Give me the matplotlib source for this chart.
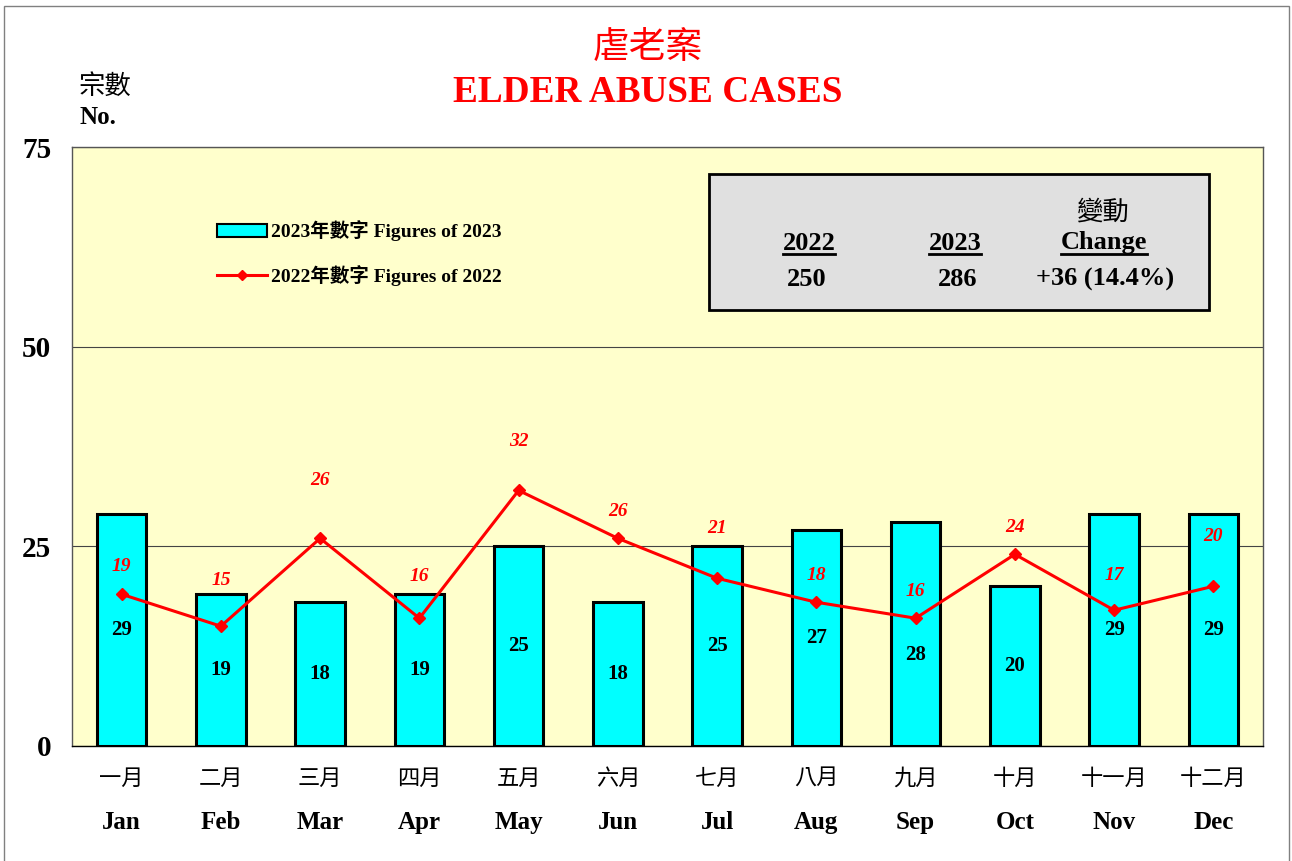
import numpy as np
import matplotlib.pyplot as plt
from matplotlib.patches import Rectangle
from matplotlib.lines import Line2D

serif = ['Liberation Serif', 'Noto Sans CJK TC']
cjk = ['Noto Sans CJK TC', 'Liberation Serif']
plt.rcParams['font.family'] = serif

months_zh = ['一月', '二月', '三月', '四月', '五月', '六月',
             '七月', '八月', '九月', '十月', '十一月', '十二月']
months_en = ['Jan', 'Feb', 'Mar', 'Apr', 'May', 'Jun',
             'Jul', 'Aug', 'Sep', 'Oct', 'Nov', 'Dec']
cases_2023 = [29, 19, 18, 19, 25, 18, 25, 27, 28, 20, 29, 29]
cases_2022 = [19, 15, 26, 16, 32, 26, 21, 18, 16, 24, 17, 20]
yticks = [0, 25, 50, 75]

# label placement tweaks (points), as hand-placed in the original
red_label_dy = [20, 33, 42, 30, 35, 19, 36, 19, 19, 19, 25, 36]
bar_label_dy = [0, 0, 0, 0, 0, 0, 0, 0, -15, 0, 0, 0]

fig = plt.figure(figsize=(12.92, 8.61), dpi=100)
fig.patches.append(Rectangle((4/1292, -0.01), 1285/1292, 1.01 - 6/861,
                             transform=fig.transFigure, fill=False,
                             edgecolor='#808080', lw=1))
ax = fig.add_axes([72/1292, 1 - 746/861, 1191/1292, 599/861])
ax.set_facecolor('#ffffcc')

x = np.arange(len(months_en))
bars = ax.bar(x, cases_2023, width=0.5, color='#00ffff', edgecolor='black',
              linewidth=2.2, zorder=3, label='2023年數字 Figures of 2023')
line, = ax.plot(x, cases_2022, color='red', lw=2.2, marker='D', markersize=6.5,
                zorder=4, label='2022年數字 Figures of 2022')

for xi, v, dy in zip(x, cases_2023, bar_label_dy):
    ax.annotate(str(v), (xi, v / 2), xytext=(0, dy), textcoords='offset points',
                ha='center', va='center', fontsize=15, fontweight='bold', zorder=5)
for xi, v, dy in zip(x, cases_2022, red_label_dy):
    ax.annotate(str(v), (xi, v), xytext=(0, dy), textcoords='offset points',
                ha='center', va='center', fontsize=14, fontweight='bold',
                fontstyle='italic', color='red', zorder=5)

ax.set_xlim(-0.5, 11.5)
ax.set_ylim(0, 75)
ax.set_yticks(yticks)
ax.set_yticklabels([str(t) for t in yticks], fontsize=21, fontweight='bold')
ax.tick_params(axis='y', length=0, pad=15)
ax.set_xticks(x)
ax.set_xticklabels([])
ax.tick_params(axis='x', length=0)
for xi, zh, en in zip(x, months_zh, months_en):
    ax.text(xi, -4.0, zh, ha='center', va='center', fontsize=16, family=cjk)
    ax.text(xi, -9.6, en, ha='center', va='center', fontsize=18,
            fontweight='bold')
ax.grid(axis='y', color='#444444', lw=0.8, zorder=1)
for s in ax.spines.values():
    s.set_color('#555555')
    s.set_linewidth(1)
ax.spines['bottom'].set_color('black')

leg_handles = [Rectangle((0, 0), 1, 1, facecolor='#00ffff', edgecolor='black', lw=1.5),
               Line2D([], [], color='red', lw=2.2, marker='D', markersize=5.5)]
ax.legend(leg_handles, [bars.get_label(), line.get_label()],
          loc='upper left', bbox_to_anchor=(0.107, 0.907), frameon=False,
          prop={'family': serif, 'weight': 'bold', 'size': 14},
          handlelength=2.6, handleheight=0.6, handletextpad=0.2, labelspacing=1.2)

# titles
fig.text(648/1292, 1 - 47/861, '虐老案', ha='center', va='center',
         fontsize=26.5, color='red', family=cjk)
fig.text(648/1292, 1 - 92/861, 'ELDER ABUSE CASES', ha='center', va='center',
         fontsize=26.8, color='red', fontweight='bold')
fig.text(79/1292, 1 - 86/861, '宗數', ha='left', va='center', fontsize=19,
         family=cjk)
fig.text(79/1292, 1 - 117/861, 'No.', ha='left', va='center', fontsize=18,
         fontweight='bold')

# summary box
fig.patches.append(Rectangle((709/1292, 1 - 310/861), 500/1292, 136/861,
                             transform=fig.transFigure, facecolor='#e0e0e0',
                             edgecolor='black', lw=2, zorder=10))
box_texts = [
    (1102, 212, '變動', False, cjk),
    (809, 243, '2022', True, serif),
    (955, 243, '2023', True, serif),
    (1104, 243, 'Change', True, serif),
    (807, 279, '250', False, serif),
    (958, 279, '286', False, serif),
    (1105, 279, '+36 (14.4%)', False, serif),
]
made = []
for px, py, s, ul, fam in box_texts:
    t = fig.text(px/1292, 1 - py/861, s, ha='center', va='center',
                 fontsize=19, fontweight='bold' if fam is serif else 'normal',
                 family=fam, zorder=11)
    made.append((t, ul))

fig.canvas.draw()
r = fig.canvas.get_renderer()
for t, ul in made:
    if ul:
        bb = t.get_window_extent(r).transformed(fig.transFigure.inverted())
        fig.add_artist(Line2D([bb.x0, bb.x1], [bb.y0 + 0.001, bb.y0 + 0.001],
                              transform=fig.transFigure, color='black', lw=2,
                              zorder=12))

fig.savefig('out.png', dpi=100)
